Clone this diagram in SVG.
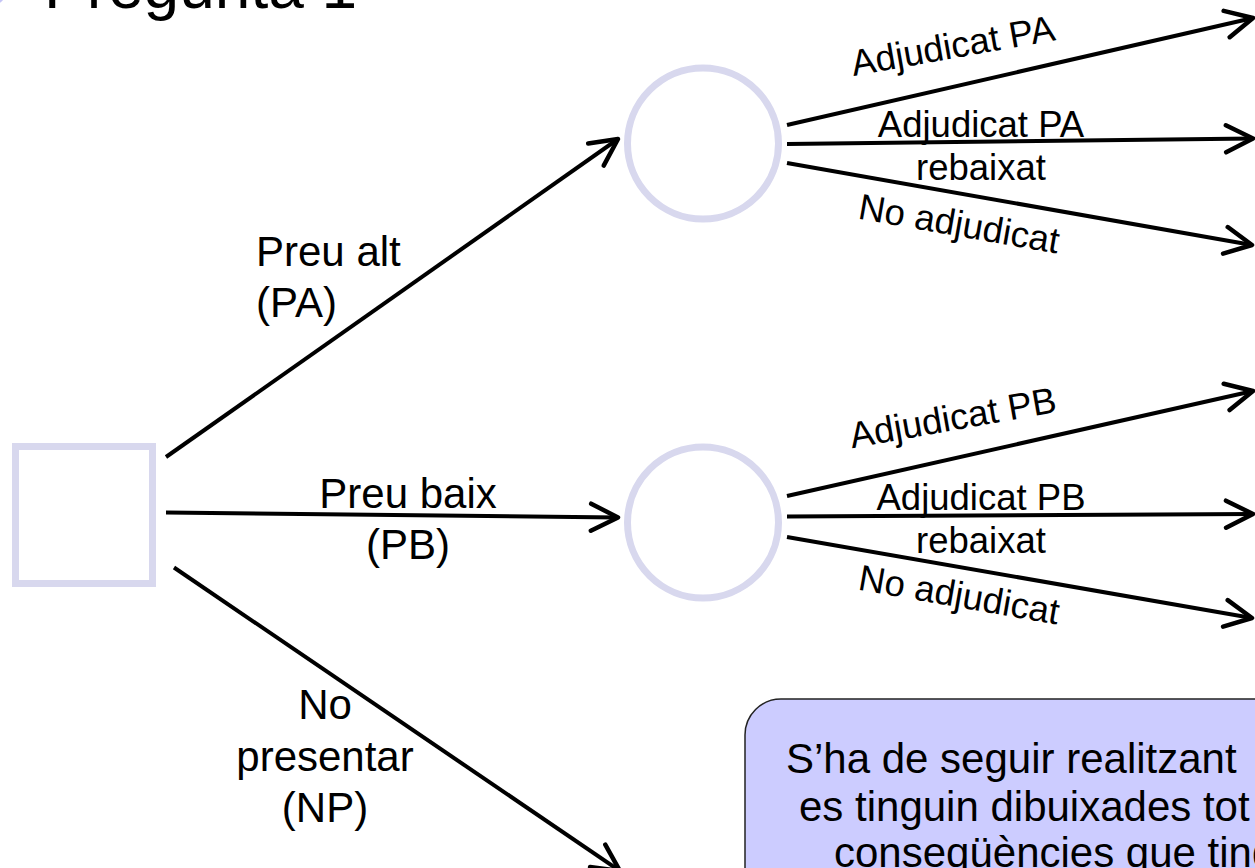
<svg xmlns="http://www.w3.org/2000/svg" width="1255" height="868" viewBox="0 0 1255 868">
<style>
  .node { fill: #ffffff; stroke: #D8D8EE; stroke-width: 7; }
  .edge { stroke: #000; stroke-width: 4; fill: none; stroke-linecap: butt; }
  .lbl { font-family: "Liberation Sans", Arial, sans-serif; font-size: 42px; fill: #000; }
  .rl { font-family: "Liberation Sans", Arial, sans-serif; font-size: 36.5px; fill: #000; }
  .title { font-family: "Liberation Sans", Arial, sans-serif; font-size: 64px; fill: #000; }
</style>
<defs>
  <marker id="arr" markerUnits="userSpaceOnUse" markerWidth="40" markerHeight="40" viewBox="-34 -20 40 40" refX="0" refY="0" orient="auto" overflow="visible">
    <path d="M -27 -13.5 L 0 0 L -27 13.5" fill="none" stroke="#000" stroke-width="4.5" stroke-linecap="round" stroke-linejoin="round"/>
  </marker>
</defs>
<rect width="1255" height="868" fill="#ffffff"/>

<g id="title">
  <circle cx="-5" cy="-6" r="10" fill="#C4C4F6"/>
  <text class="title" x="44" y="8">Pregunta 1</text>
</g>

<g id="decision">
  <rect class="node" x="15.5" y="446.5" width="137" height="137"/>
</g>
<g id="chance-pa">
  <circle class="node" cx="703" cy="143.5" r="75.5"/>
</g>
<g id="chance-pb">
  <circle class="node" cx="703" cy="522.5" r="75.5"/>
</g>

<g id="connectors">
  <line class="edge" x1="166" y1="457" x2="618" y2="139" marker-end="url(#arr)"/>
  <line class="edge" x1="166" y1="512.5" x2="618" y2="517.5" marker-end="url(#arr)"/>
  <line class="edge" x1="174" y1="567.5" x2="620" y2="871" marker-end="url(#arr)"/>

  <line class="edge" x1="787" y1="125" x2="1253" y2="18" marker-end="url(#arr)"/>
  <line class="edge" x1="787" y1="144" x2="1253" y2="138.5" marker-end="url(#arr)"/>
  <line class="edge" x1="787" y1="163" x2="1252" y2="245" marker-end="url(#arr)"/>

  <line class="edge" x1="787" y1="496" x2="1253" y2="391" marker-end="url(#arr)"/>
  <line class="edge" x1="787" y1="516.5" x2="1253" y2="514" marker-end="url(#arr)"/>
  <line class="edge" x1="787" y1="537" x2="1252" y2="618" marker-end="url(#arr)"/>
</g>

<g id="labels-left">
  <text class="lbl" x="256" y="266">Preu alt</text>
  <text class="lbl" x="256" y="317">(PA)</text>
  <text class="lbl" x="408" y="508" text-anchor="middle">Preu baix</text>
  <text class="lbl" x="408" y="559" text-anchor="middle">(PB)</text>
  <text class="lbl" x="325" y="719" text-anchor="middle">No</text>
  <text class="lbl" x="325" y="771" text-anchor="middle">presentar</text>
  <text class="lbl" x="325" y="822" text-anchor="middle">(NP)</text>
</g>

<g id="labels-right">
  <text class="rl" x="955" y="58" text-anchor="middle" transform="rotate(-10 955 58)">Adjudicat PA</text>
  <text class="rl" x="981" y="137" text-anchor="middle">Adjudicat PA</text>
  <text class="rl" x="981" y="180" text-anchor="middle">rebaixat</text>
  <text class="rl" x="957" y="236" text-anchor="middle" transform="rotate(10 957 236)">No adjudicat</text>

  <text class="rl" x="955" y="430" text-anchor="middle" transform="rotate(-10 955 430)">Adjudicat PB</text>
  <text class="rl" x="981" y="510" text-anchor="middle">Adjudicat PB</text>
  <text class="rl" x="981" y="553" text-anchor="middle">rebaixat</text>
  <text class="rl" x="957" y="607" text-anchor="middle" transform="rotate(10 957 607)">No adjudicat</text>
</g>

<g id="note">
  <rect x="745" y="699" width="560" height="220" rx="36" ry="36" fill="#CCCCFF" stroke="#222" stroke-width="1.5"/>
  <text class="lbl" x="786" y="773">S’ha de seguir realitzant</text>
  <text class="lbl" x="799" y="821">es tinguin dibuixades tot</text>
  <text class="lbl" x="834" y="867">conseqüències que ting</text>
</g>
</svg>
